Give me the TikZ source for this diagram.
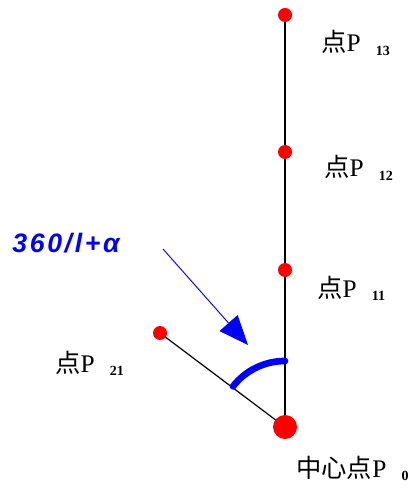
\documentclass[tikz,border=0pt]{standalone}
\usepackage{fontspec}
\setmainfont{Liberation Serif}
\newfontfamily\cjk{Noto Sans CJK SC}
\newfontfamily\hand[LetterSpace=10]{Liberation Sans}
\usetikzlibrary{arrows.meta}
\tikzset{
  dot/.style={circle,fill=red,inner sep=0pt,minimum size=14*0.75pt},
  bigdot/.style={circle,fill=red,inner sep=0pt,minimum size=24*0.75pt},
  lbl/.style={anchor=base west,inner sep=0pt,font=\fontsize{19}{21}\selectfont},
  seg/.style={draw=black,line width=0.9pt}
}
\newcommand{\mysub}[1]{\hspace{0.6em}\raisebox{-0.3ex}{\fontsize{10.5}{12}\selectfont\bfseries #1}}
\begin{document}
\begin{tikzpicture}[x=0.75pt,y=-0.75pt]
\useasboundingbox (0,0) rectangle (419,491);
\coordinate (c0) at (285,427);
\coordinate (c11) at (285,270);
\coordinate (c12) at (285,152);
\coordinate (c13) at (285,15);
\coordinate (c21) at (160,333);
\draw[seg] (c13) -- (c0);
\draw[seg] (c21) -- (c0);
\node[dot] (p13) at (c13) {};
\node[dot] (p12) at (c12) {};
\node[dot] (p11) at (c11) {};
\node[dot] (p21) at (c21) {};
\node[bigdot] (p0) at (c0) {};
\draw[blue,line width=5pt,line cap=round] ([shift={(-90:66)}]c0) arc[start angle=-90,end angle=-142,radius=66];
\coordinate (as) at (163,249);
\coordinate (at) at (248,345);
\draw[blue,line width=0.7pt,-{Triangle[length=22pt,width=18pt]}] (as) -- (at);
\node[lbl] (t13) at (321,52) {{\cjk 点}P\mysub{13}};
\node[lbl] (t12) at (324,177) {{\cjk 点}P\mysub{12}};
\node[lbl] (t11) at (317,297) {{\cjk 点}P\mysub{11}};
\node[lbl] (t21) at (55,372) {{\cjk 点}P\mysub{21}};
\node[lbl] (t0) at (296,477) {{\cjk 中心点}P\mysub{0}};
\node[anchor=base west,inner sep=0pt,text=blue,font=\hand\bfseries\itshape\fontsize{20}{22}\selectfont] (ang) at (12,252) {360/l+α};
\end{tikzpicture}
\end{document}
